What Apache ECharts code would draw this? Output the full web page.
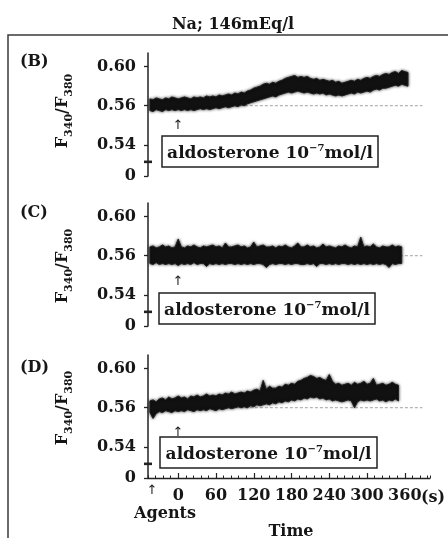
<!DOCTYPE html>
<html><head><meta charset="utf-8">
<script src="https://cdn.jsdelivr.net/npm/echarts@6/dist/echarts.min.js"></script>
<style>html,body{margin:0;padding:0;background:#fff}#c{width:448px;height:538px}</style>
</head><body><div id="c"></div>
<script>
// ---- data (time in s, ratio F340/F380) ----
const timeStart = -45;
const timeStep = 5;
const xTickLabels = [0, 60, 120, 180, 240, 300, 360];
const yTickValues = [0.488, 0.52, 0.56, 0.60];
const yTickLabels = ['0', '0.54', '0.56', '0.60'];
const baselineValue = 0.56;
const baselineSpan = [-45, 388];
const breakValue = 0.5025;
const panelLabels = ['(B)', '(C)', '(D)'];
const agentText = 'aldosterone 10';
const agentExp = '\u22127';
const agentUnit = 'mol/l';

// panel B: upper and lower edge of the noisy trace
const bTop = [0.567,0.566,0.568,0.567,0.566,0.568,0.567,0.569,0.568,0.567,
  0.568,0.569,0.568,0.567,0.569,0.568,0.569,0.568,0.570,0.569,
  0.570,0.569,0.571,0.570,0.571,0.572,0.571,0.573,0.572,0.574,
  0.573,0.575,0.576,0.578,0.579,0.580,0.582,0.583,0.582,0.584,
  0.583,0.585,0.586,0.588,0.589,0.590,0.591,0.589,0.590,0.589,
  0.590,0.588,0.587,0.588,0.586,0.587,0.586,0.585,0.586,0.584,
  0.585,0.583,0.584,0.585,0.586,0.585,0.587,0.586,0.588,0.589,
  0.588,0.590,0.591,0.590,0.592,0.593,0.592,0.594,0.595,0.593,
  0.596,0.595,0.594];
const bBottom = [0.555,0.554,0.556,0.555,0.554,0.556,0.555,0.556,0.555,0.556,
  0.555,0.556,0.555,0.556,0.555,0.556,0.557,0.556,0.557,0.556,
  0.557,0.558,0.557,0.558,0.559,0.558,0.559,0.560,0.559,0.561,
  0.560,0.562,0.563,0.564,0.565,0.566,0.567,0.568,0.569,0.570,
  0.569,0.571,0.572,0.573,0.574,0.573,0.574,0.575,0.574,0.573,
  0.574,0.573,0.572,0.573,0.572,0.573,0.571,0.572,0.571,0.570,
  0.571,0.570,0.571,0.572,0.573,0.572,0.574,0.573,0.574,0.575,
  0.574,0.576,0.577,0.576,0.578,0.578,0.579,0.580,0.581,0.580,
  0.582,0.581,0.580];

// panel C
const cTop = [0.569,0.570,0.568,0.569,0.571,0.569,0.570,0.568,0.569,0.577,
  0.569,0.568,0.570,0.569,0.571,0.569,0.568,0.570,0.569,0.570,
  0.571,0.569,0.570,0.568,0.573,0.569,0.569,0.570,0.571,0.569,
  0.570,0.568,0.569,0.574,0.569,0.570,0.571,0.569,0.569,0.570,
  0.568,0.570,0.569,0.571,0.569,0.568,0.570,0.573,0.569,0.569,
  0.571,0.569,0.570,0.568,0.569,0.572,0.569,0.570,0.569,0.568,
  0.570,0.569,0.571,0.569,0.568,0.570,0.569,0.579,0.569,0.570,
  0.569,0.572,0.569,0.568,0.570,0.569,0.569,0.571,0.569,0.570,
  0.569];
const cBottom = [0.552,0.551,0.553,0.551,0.552,0.551,0.552,0.551,0.552,0.550,
  0.552,0.551,0.552,0.551,0.553,0.551,0.552,0.552,0.549,0.552,
  0.551,0.552,0.551,0.552,0.551,0.552,0.552,0.551,0.552,0.551,
  0.552,0.551,0.552,0.551,0.552,0.552,0.551,0.548,0.551,0.552,
  0.551,0.552,0.552,0.551,0.552,0.551,0.552,0.552,0.551,0.551,
  0.552,0.551,0.552,0.549,0.552,0.552,0.551,0.552,0.551,0.552,
  0.551,0.552,0.552,0.551,0.552,0.551,0.552,0.551,0.552,0.551,
  0.552,0.551,0.552,0.551,0.552,0.551,0.548,0.552,0.551,0.552,
  0.552];

// panel D
const dTop = [0.567,0.568,0.566,0.569,0.570,0.568,0.571,0.569,0.570,0.572,
  0.570,0.571,0.569,0.572,0.571,0.573,0.571,0.572,0.574,0.572,
  0.573,0.572,0.574,0.573,0.575,0.574,0.576,0.574,0.575,0.576,
  0.575,0.577,0.576,0.578,0.579,0.577,0.588,0.579,0.582,0.580,
  0.580,0.582,0.581,0.584,0.583,0.585,0.584,0.587,0.588,0.590,
  0.591,0.593,0.592,0.590,0.591,0.589,0.588,0.594,0.587,0.584,
  0.585,0.583,0.584,0.585,0.583,0.586,0.584,0.585,0.587,0.584,
  0.585,0.590,0.583,0.584,0.585,0.583,0.584,0.586,0.584,0.583];
const dBottom = [0.555,0.549,0.554,0.556,0.555,0.557,0.556,0.555,0.557,0.556,
  0.557,0.556,0.558,0.557,0.556,0.558,0.557,0.558,0.557,0.559,
  0.558,0.557,0.559,0.558,0.559,0.560,0.559,0.560,0.561,0.560,
  0.561,0.560,0.562,0.561,0.563,0.562,0.563,0.564,0.563,0.565,
  0.564,0.566,0.565,0.567,0.566,0.568,0.567,0.569,0.568,0.570,
  0.569,0.571,0.570,0.571,0.569,0.570,0.568,0.569,0.567,0.568,
  0.567,0.566,0.567,0.568,0.567,0.560,0.566,0.568,0.567,0.568,
  0.567,0.568,0.569,0.567,0.568,0.566,0.568,0.567,0.569,0.567];

const panels = [[bTop, bBottom], [cTop, cBottom], [dTop, dBottom]];

// ---- layout ----
const SERIF = '"DejaVu Serif", "Liberation Serif", serif';
const INK = '#161616';
const gridTops = [53, 203, 355];
const gridLeft = 148, gridW = 282, gridH = 123;
const yMin = 0.488, yMax = 0.614, xMin = -48, xMax = 400;

function labelFor(v) {
  let best = 0;
  for (let i = 1; i < yTickValues.length; i++) {
    if (Math.abs(yTickValues[i] - v) < Math.abs(yTickValues[best] - v)) best = i;
  }
  return yTickLabels[best];
}

function bandSeries(idx, top, bottom) {
  return {
    type: 'custom', xAxisIndex: idx, yAxisIndex: idx, z: 5, silent: true,
    data: [[timeStart, top[0]]],
    renderItem: function (params, api) {
      const pts = [];
      for (let i = 0; i < top.length; i++) pts.push(api.coord([timeStart + i * timeStep, top[i]]));
      for (let i = bottom.length - 1; i >= 0; i--) pts.push(api.coord([timeStart + i * timeStep, bottom[i]]));
      return { type: 'polygon', shape: { points: pts },
        style: { fill: '#111', stroke: '#222', lineWidth: 1, lineJoin: 'miter',
          shadowBlur: 3, shadowColor: 'rgba(0,0,0,0.75)' } };
    }
  };
}

const grid = gridTops.map(t => ({ left: gridLeft, top: t, width: gridW, height: gridH }));

const xAxis = [];
for (let i = 0; i < 3; i++) {
  if (i < 2) {
    xAxis.push({ type: 'value', gridIndex: i, min: xMin, max: xMax, show: false });
  } else {
    xAxis.push({
      type: 'value', gridIndex: i, min: xMin, max: xMax, interval: 12, position: 'bottom',
      axisLine: { show: true, onZero: false, lineStyle: { color: '#222', width: 1.3 } },
      axisTick: { show: true, inside: true, length: 2.5, interval: 0, lineStyle: { color: '#222', width: 1 } },
      axisLabel: { customValues: xTickLabels, margin: 10, fontFamily: SERIF, fontWeight: 'bold', fontSize: 16, color: INK },
      splitLine: { show: false }
    });
  }
}
xAxis.push({
  type: 'value', gridIndex: 2, min: xMin, max: xMax, position: 'bottom',
  axisLine: { show: false, onZero: false },
  axisTick: { show: true, inside: true, length: 5, customValues: xTickLabels, lineStyle: { color: '#222', width: 1.2 } },
  axisLabel: { show: false }, splitLine: { show: false }
});

const yAxis = [0, 1, 2].map(i => ({
  type: 'value', gridIndex: i, min: yMin, max: yMax, position: 'left',
  axisLine: { show: true, onZero: false, lineStyle: { color: '#222', width: 1.5 } },
  axisTick: { show: true, customValues: yTickValues, length: 4, lineStyle: { color: '#222', width: 1.3 } },
  axisLabel: { customValues: yTickValues, formatter: labelFor, margin: 12, showMinLabel: true,
    fontFamily: SERIF, fontWeight: 'bold', fontSize: 16, color: INK },
  splitLine: { show: false }
}));

const series = [];
for (let i = 0; i < 3; i++) {
  series.push({
    type: 'line', xAxisIndex: i, yAxisIndex: i, z: 2, silent: true, symbol: 'none',
    data: [[baselineSpan[0], baselineValue], [baselineSpan[1], baselineValue]],
    lineStyle: { color: '#8a8a8a', width: 0.8, type: [3, 2] },
    markPoint: { silent: true, symbol: 'rect', symbolSize: [8, 2.6], itemStyle: { color: '#222' },
      label: { show: false }, data: [{ coord: [xMin, breakValue] }] }
  });
  series.push(bandSeries(i, panels[i][0], panels[i][1]));
}

// ---- decorations ----
const boxes = [[162, 136, 216, 31], [159, 293, 216, 31], [160, 437, 217, 31]];
const arrowsY = [126, 282, 433];
const panelLabelY = [62, 213, 368];
const yNameY = [111, 266, 408];
const graphic = [];
graphic.push({ type: 'polyline', shape: { points: [[8, 538], [8, 35], [448, 35]] },
  style: { stroke: '#3a3a3a', lineWidth: 1.5, fill: null }, silent: true });
graphic.push({ type: 'text', x: 233, y: 25, silent: true,
  style: { text: 'Na; 146mEq/l', font: 'bold 16px ' + SERIF, fill: INK, align: 'center', verticalAlign: 'middle' } });
for (let i = 0; i < 3; i++) {
  graphic.push({ type: 'text', x: 20, y: panelLabelY[i], silent: true,
    style: { text: panelLabels[i], font: 'bold 16px ' + SERIF, fill: INK, align: 'left', verticalAlign: 'middle' } });
  graphic.push({ type: 'text', x: 65, y: yNameY[i], rotation: Math.PI / 2, silent: true,
    style: { text: '{f|F}{s|340}{f|/F}{s|380}', align: 'center', verticalAlign: 'middle',
      rich: {
        f: { fontFamily: SERIF, fontWeight: 'bold', fontSize: 16, fill: INK, verticalAlign: 'bottom', padding: [0, 0, 4, 0] },
        s: { fontFamily: SERIF, fontWeight: 'bold', fontSize: 11, fill: INK, verticalAlign: 'bottom' }
      } } });
  const b = boxes[i];
  graphic.push({ type: 'rect', shape: { x: b[0], y: b[1], width: b[2], height: b[3] }, silent: true,
    style: { fill: '#fff', stroke: '#222', lineWidth: 1.5 }, z: 10 });
  graphic.push({ type: 'text', x: b[0] + b[2] / 2, y: b[1] + b[3] / 2 + 1, silent: true, z: 11,
    style: { text: '{a|' + agentText + '}{e|' + agentExp + '}{a|' + agentUnit + '}', align: 'center', verticalAlign: 'middle',
      rich: {
        a: { fontFamily: SERIF, fontWeight: 'bold', fontSize: 17, fill: INK, verticalAlign: 'bottom' },
        e: { fontFamily: SERIF, fontWeight: 'bold', fontSize: 10, fill: INK, verticalAlign: 'bottom', padding: [0, 0, 9, 0] }
      } } });
  graphic.push({ type: 'text', x: 178, y: arrowsY[i], silent: true,
    style: { text: '\u2191', font: '13px "DejaVu Sans"', fill: '#222', align: 'center', verticalAlign: 'middle' } });
}
graphic.push({ type: 'text', x: 152, y: 491, silent: true,
  style: { text: '\u2191', font: '13px "DejaVu Sans"', fill: '#222', align: 'center', verticalAlign: 'middle' } });
graphic.push({ type: 'text', x: 165, y: 514, silent: true,
  style: { text: 'Agents', font: 'bold 16px ' + SERIF, fill: INK, align: 'center', verticalAlign: 'middle' } });
graphic.push({ type: 'text', x: 291, y: 532, silent: true,
  style: { text: 'Time', font: 'bold 16px ' + SERIF, fill: INK, align: 'center', verticalAlign: 'middle' } });
graphic.push({ type: 'text', x: 433, y: 498, silent: true,
  style: { text: '(s)', font: 'bold 16px ' + SERIF, fill: INK, align: 'center', verticalAlign: 'middle' } });

const chart = echarts.init(document.getElementById('c'), null, { renderer: 'canvas' });
chart.setOption({
  animation: false, backgroundColor: '#fff',
  grid: grid, xAxis: xAxis, yAxis: yAxis, series: series, graphic: graphic
});
</script></body></html>
